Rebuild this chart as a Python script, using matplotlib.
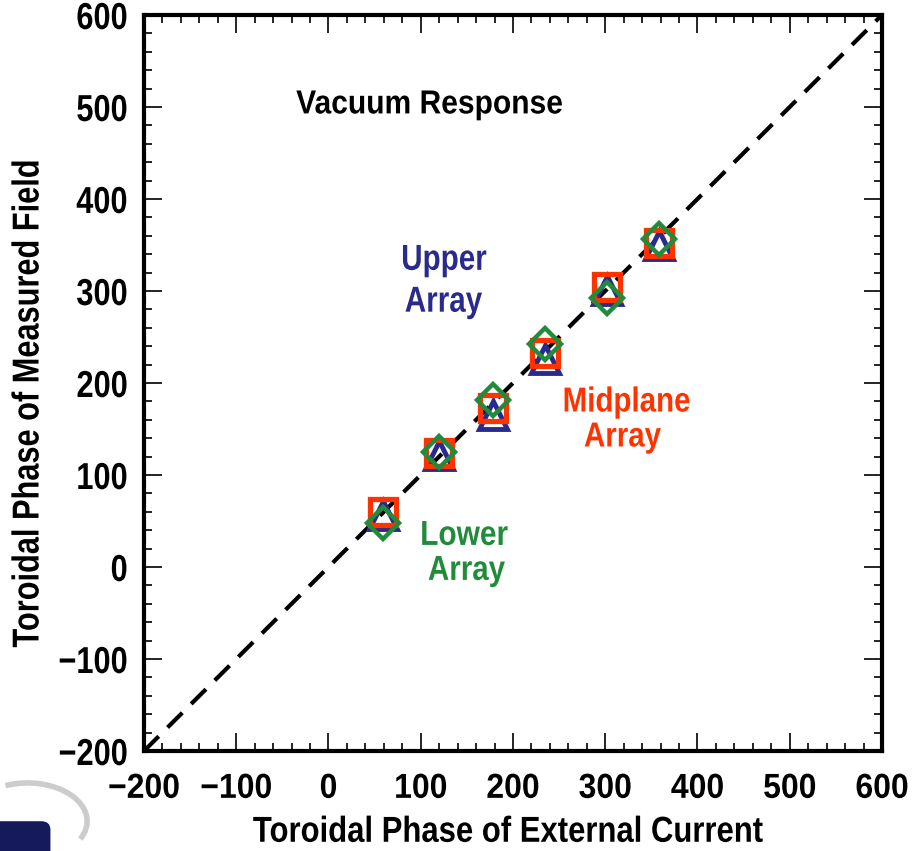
import numpy as np
import matplotlib.pyplot as plt
from matplotlib.patches import FancyBboxPatch, Arc
from matplotlib.patheffects import AbstractPathEffect
from matplotlib.transforms import Affine2D

# toroidal phase of the applied external current (deg)
ext_phase = [59, 120, 178, 235, 302, 358]
# measured toroidal phase per sensor array (deg)
upper = [57, 122, 165, 226, 301, 350]
midplane = [60, 124, 173, 233, 304, 352]
lower = [48, 125, 182, 242, 292, 357]

NAVY = '#2a2a8c'
RED = '#ff3300'
GREEN = '#228b3b'


class Condense(AbstractPathEffect):
    """squeeze glyphs horizontally to mimic a narrow bold face"""
    def __init__(self, sx=0.85, anchor='center'):
        super().__init__()
        self.sx = sx
        self.anchor = anchor

    def draw_path(self, renderer, gc, tpath, affine, rgbFace=None):
        ext = tpath.get_extents()
        cx = ext.x1 if self.anchor == 'right' else (ext.x0 + ext.x1) / 2
        t = Affine2D().translate(-cx, 0).scale(self.sx, 1).translate(cx, 0) + affine
        renderer.draw_path(gc, tpath, t, rgbFace)


plt.rcParams['font.family'] = ['Liberation Sans', 'DejaVu Sans']
plt.rcParams['font.weight'] = 'bold'

fig = plt.figure(figsize=(9.17, 8.51), dpi=100)
ax = fig.add_axes([0.1570, 0.1175, 0.8048, 0.8649])

ax.plot([-200, 600], [-200, 600], color='black', lw=3, dashes=(5, 3), zorder=1)
ax.plot(ext_phase, upper, ls='none', marker='^', ms=20, mfc='none', mec=NAVY, mew=3.5, zorder=2)
ax.plot(ext_phase, midplane, ls='none', marker='s', ms=19, mfc='none', mec=RED, mew=3.8, zorder=3)
ax.plot(ext_phase, lower, ls='none', marker='D', ms=16, mfc='none', mec=GREEN, mew=3.2, zorder=4)

ax.set_xlim(-200, 600)
ax.set_ylim(-200, 600)
ax.set_xticks(np.arange(-200, 601, 100))
ax.set_yticks(np.arange(-200, 601, 100))
ax.set_xticks(np.arange(-200, 601, 20), minor=True)
ax.set_yticks(np.arange(-200, 601, 20), minor=True)
ax.tick_params(which='both', direction='in', top=True, right=True, width=1.2)
ax.tick_params(which='major', length=13)
ax.tick_params(which='minor', length=6)
ax.tick_params(axis='y', pad=11.5, labelsize=27)
ax.tick_params(axis='x', pad=15, labelsize=25)
for s in ax.spines.values():
    s.set_linewidth(3)
for lab in ax.get_yticklabels():
    lab.set_path_effects([Condense(0.82, 'right')])
for lab in ax.get_xticklabels():
    lab.set_path_effects([Condense(0.92)])

ax.set_xlabel('Toroidal Phase of External Current', fontsize=26, fontweight='bold',
              va='center', path_effects=[Condense(0.86)])
ax.set_ylabel('Toroidal Phase of Measured Field', fontsize=27, fontweight='bold',
              va='center', path_effects=[Condense(0.82)])
ax.xaxis.set_label_coords(0.554, 0.022, transform=fig.transFigure)
ax.yaxis.set_label_coords(0.0311, 0.526, transform=fig.transFigure)

# annotations, one text per line
notes = [
    ('Vacuum Response', 110, 493, 'black', 24, 0.9),
    ('Upper', 125, 323, NAVY, 26, 0.82),
    ('Array', 124.7, 277.5, NAVY, 26, 0.82),
    ('Midplane', 323, 169, RED, 25, 0.85),
    ('Array', 318.7, 131, RED, 25, 0.85),
    ('Lower', 147, 24, GREEN, 25, 0.86),
    ('Array', 149.6, -14, GREEN, 25, 0.85),
]
for txt, x, y, c, fs, sx in notes:
    ax.text(x, y, txt, fontsize=fs, fontweight='bold', ha='center', va='baseline',
            color=c, path_effects=[Condense(sx)])

# partial logo in the bottom-left corner
fig.patches.append(Arc((0.03, 0.035), 0.13, 0.09, theta1=-20, theta2=120, color='#cccccc',
                       lw=4, transform=fig.transFigure, figure=fig))
fig.patches.append(FancyBboxPatch((-0.02, -0.03), 0.075, 0.065, boxstyle='round,pad=0,rounding_size=0.01',
                                  fc='#141a5c', ec='none', transform=fig.transFigure, figure=fig))

fig.savefig('out.png', dpi=100)
